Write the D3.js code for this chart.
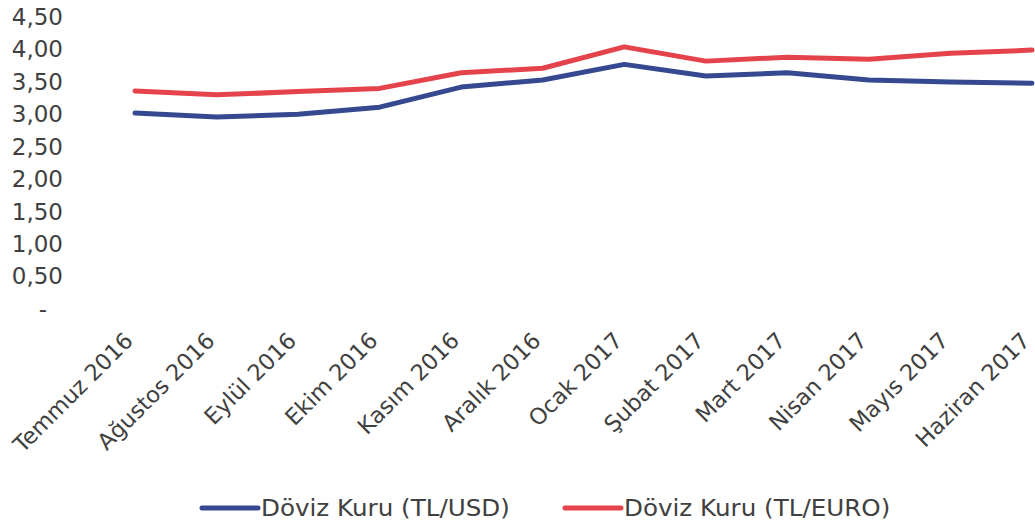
<!DOCTYPE html>
<html>
<head>
<meta charset="utf-8">
<script src="https://cdn.jsdelivr.net/npm/d3@7"></script>
<style>
  body { margin: 0; background: #fff; }
  text { font-family: "DejaVu Sans", Verdana, sans-serif; fill: #404040; }
</style>
</head>
<body>
<script>
// months on the x axis
const months = ["Temmuz 2016", "Ağustos 2016", "Eylül 2016", "Ekim 2016", "Kasım 2016", "Aralık 2016",
  "Ocak 2017", "Şubat 2017", "Mart 2017", "Nisan 2017", "Mayıs 2017", "Haziran 2017"];

// exchange rates
const usd = [3.02, 2.96, 3.00, 3.11, 3.42, 3.53, 3.77, 3.59, 3.64, 3.53, 3.50, 3.48];
const euro = [3.36, 3.30, 3.35, 3.40, 3.64, 3.71, 4.04, 3.82, 3.88, 3.85, 3.94, 3.99];

const yTicks = [0, 0.5, 1, 1.5, 2, 2.5, 3, 3.5, 4, 4.5];
const seriesNames = ["Döviz Kuru (TL/USD)", "Döviz Kuru (TL/EURO)"];
const seriesColors = ["#34498f", "#e4434c"];

const width = 1035, height = 530;

const svg = d3.select('body').append('svg')
  .attr('width', width)
  .attr('height', height);

// scales
const xScale = d3.scalePoint()
  .domain(months)
  .range([135, 1032]);
const yScale = d3.scaleLinear()
  .domain([0, 4.5])
  .range([309, 17]);

// y axis, accounting style format with "-" for zero
const yAxis = svg.append('g')
  .attr('transform', 'translate(63,0)')
  .call(d3.axisLeft(yScale).tickValues(yTicks).tickSize(0).tickPadding(0)
    .tickFormat(d => d === 0 ? '-' : d3.format('.2f')(d).replace('.', ',')));
yAxis.select('.domain').remove();
yAxis.selectAll('text')
  .style('font-size', '23px')
  .style('font-family', '"DejaVu Sans", Verdana, sans-serif')
  .attr('fill', '#404040')
  .attr('dx', d => d === 0 ? -16 : 0);

// x axis labels, rotated
const xAxis = svg.append('g')
  .attr('transform', 'translate(0,309)')
  .call(d3.axisBottom(xScale).tickSize(0));
xAxis.select('.domain').remove();
xAxis.selectAll('text')
  .style('font-size', '22.5px')
  .style('font-family', '"DejaVu Sans", Verdana, sans-serif')
  .attr('fill', '#404040')
  .attr('text-anchor', 'end')
  .attr('dy', null)
  .attr('y', 0)
  .attr('transform', 'translate(-1,33) rotate(-45)');

// lines
const line = d3.line()
  .x((d, i) => xScale(months[i]))
  .y(d => yScale(d));

[usd, euro].forEach((vals, k) => {
  svg.append('path')
    .datum(vals)
    .attr('fill', 'none')
    .attr('stroke', seriesColors[k])
    .attr('stroke-width', 5)
    .attr('stroke-linejoin', 'round')
    .attr('stroke-linecap', 'round')
    .attr('d', line);
});

// legend
const legendX = [202, 565];
seriesNames.forEach((name, k) => {
  const g = svg.append('g').attr('transform', `translate(${legendX[k]},508)`);
  g.append('line')
    .attr('x1', 0).attr('x2', 56)
    .attr('stroke', seriesColors[k])
    .attr('stroke-width', 5)
    .attr('stroke-linecap', 'round');
  g.append('text')
    .attr('transform', 'translate(59,8) scale(1.07,1)')
    .style('font-size', '23px')
    .text(name);
});
</script>
</body>
</html>
